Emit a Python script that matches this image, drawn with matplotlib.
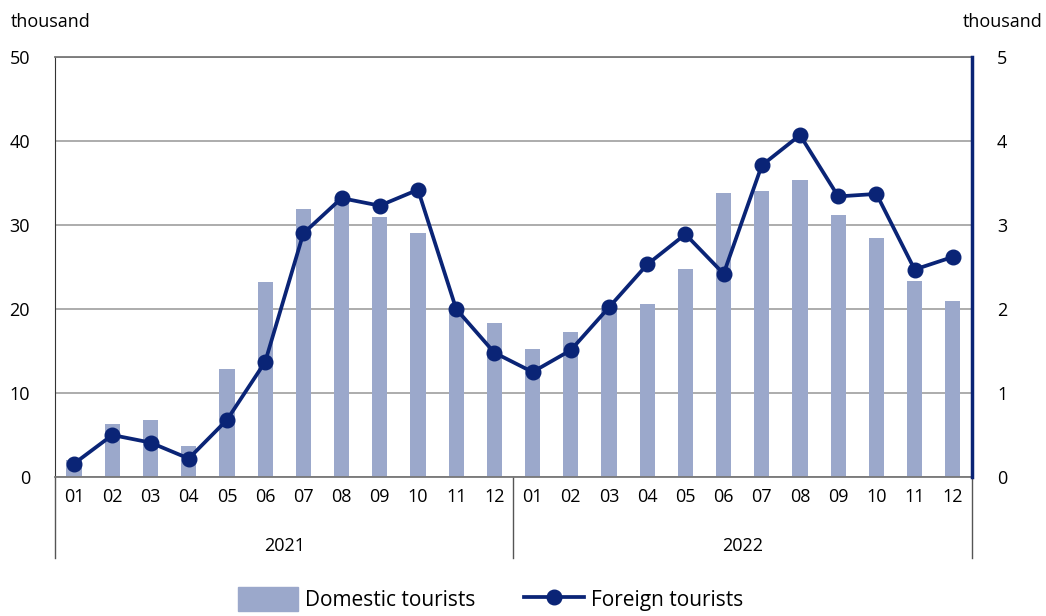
import numpy as np
import matplotlib.pyplot as plt
from matplotlib.lines import Line2D

plt.rcParams['font.family'] = ['Open Sans', 'DejaVu Sans']

months = ['01', '02', '03', '04', '05', '06', '07', '08', '09', '10', '11', '12']
years = ['2021', '2022']
domestic = [2.0, 6.3, 6.75, 3.7, 12.8, 23.25, 31.9, 33.0, 30.9, 29.1, 20.0, 18.3,
            15.2, 17.3, 20.0, 20.6, 24.8, 33.8, 34.1, 35.4, 31.2, 28.5, 23.3, 20.9]
foreign = [0.16, 0.50, 0.41, 0.22, 0.68, 1.37, 2.90, 3.32, 3.23, 3.42, 2.0, 1.48,
           1.25, 1.51, 2.02, 2.53, 2.89, 2.42, 3.71, 4.07, 3.34, 3.37, 2.47, 2.62]

bar_col = '#9ba8cb'
line_col = '#0a2476'
grid_col = '#a6a6a6'

fig = plt.figure(figsize=(10.46, 6.16), dpi=100)
ax = fig.add_axes([0.0526, 0.2256, 0.8766, 0.6819])
x = np.arange(len(domestic))

ax.bar(x, domestic, width=0.4, color=bar_col, zorder=2)
ax.set_xlim(-0.5, len(domestic) - 0.5)
ax.set_ylim(0, 50)
ax.set_yticks(range(0, 51, 10))
ax.yaxis.grid(True, color=grid_col, linewidth=1.3, zorder=0)
ax.set_xticks(x)
ax.set_xticklabels(months * 2)
ax.tick_params(axis='both', length=0, labelsize=13, pad=8)
ax.tick_params(axis='y', pad=18)
for s in ['top', 'bottom']:
    ax.spines[s].set_color('#777777')
    ax.spines[s].set_linewidth(1.3)
ax.spines['left'].set_color('#333333')
ax.spines['right'].set_visible(False)

ax2 = ax.twinx()
ax2.plot(x, foreign, color=line_col, linewidth=2.7, marker='o', markersize=10.5, zorder=3)
ax2.set_ylim(0, 5)
ax2.set_yticks(range(0, 6))
ax2.tick_params(axis='y', length=0, labelsize=13, pad=18)
ax2.spines['right'].set_color(line_col)
ax2.spines['right'].set_linewidth(2.5)
for s in ['top', 'bottom', 'left']:
    ax2.spines[s].set_visible(False)

# year group labels and separators
for xs in [-0.5, 11.5, 23.5]:
    ax.add_line(Line2D([xs, xs], [0, -0.193], transform=ax.get_xaxis_transform(),
                       color='#555555', linewidth=1, clip_on=False))
for i, yr in enumerate(years):
    ax.text(5.5 + 12 * i, -0.165, yr, transform=ax.get_xaxis_transform(),
            ha='center', va='center', fontsize=13)

fig.text(0.01, 0.965, 'thousand', ha='left', va='center', fontsize=13)
fig.text(0.997, 0.965, 'thousand', ha='right', va='center', fontsize=13)

handles = [plt.Rectangle((0, 0), 1, 1, color=bar_col),
           Line2D([], [], color=line_col, linewidth=2.7, marker='o', markersize=10.5)]
fig.legend(handles, ['Domestic tourists', 'Foreign tourists'], loc='center',
           bbox_to_anchor=(0.469, 0.027), ncol=2, frameon=False, fontsize=15,
           handlelength=2.9, handleheight=1.4, columnspacing=2.3, handletextpad=0.35)

fig.savefig('out.png', dpi=100)
